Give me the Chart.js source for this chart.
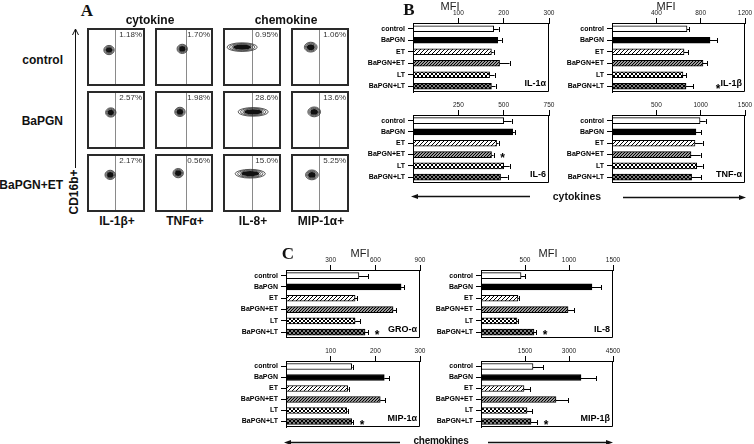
<!DOCTYPE html>
<html><head><meta charset="utf-8">
<script src="https://cdn.jsdelivr.net/npm/chart.js@4/dist/chart.umd.min.js"></script>
<style>
html,body{margin:0;padding:0;background:#fff;}
#root{position:relative;width:754px;height:444px;overflow:hidden;font-family:"Liberation Sans",Arial,sans-serif;color:#111;}
.t{position:absolute;white-space:nowrap;line-height:1;}
canvas{position:absolute;}
svg{position:absolute;left:0;top:0;}
</style></head><body><div id="root"></div>
<script>
// ---------- DATA ----------
const conditions = ['control','BaPGN','ET','BaPGN+ET','LT','BaPGN+LT'];

const il1aMFI = [178,187,173,191,169,173];
const il1aErr = [189,196,178,213,180,182];
const il1aSig = [0,0,0,0,0,0];
const il1aTicks = [100,200,300];

const il1bMFI = [677,884,650,821,640,668];
const il1bErr = [695,947,686,857,668,731];
const il1bSig = [0,0,0,0,0,1];
const il1bTicks = [400,800,1200];

const il6MFI = [500,550,461,433,500,483];
const il6Err = [544,562,472,444,533,522];
const il6Sig = [0,0,0,1,0,0];
const il6Ticks = [250,500,750];

const tnfaMFI = [993,947,936,891,955,898];
const tnfaErr = [1057,1004,1023,1000,1023,1004];
const tnfaSig = [0,0,0,0,0,0];
const tnfaTicks = [500,1000,1500];

const groaMFI = [490,773,464,719,464,531];
const groaErr = [551,793,477,739,497,551];
const groaSig = [0,0,0,0,0,1];
const groaTicks = [300,600,900];

const il8MFI = [455,1261,420,989,409,602];
const il8Err = [500,1364,430,1057,420,625];
const il8Sig = [0,0,0,0,0,1];
const il8Ticks = [500,1000,1500];

const mip1aMFI = [147,220,138,211,136,147];
const mip1aErr = [149,231,140,222,138,150];
const mip1aSig = [0,0,0,0,0,1];
const mip1aTicks = [100,200,300];

const mip1bMFI = [1773,3409,1466,2557,1568,1705];
const mip1bErr = [2114,3920,1670,2966,1739,1909];
const mip1bSig = [0,0,0,0,0,1];
const mip1bTicks = [1500,3000,4500];

// Panel A (flow cytometry)
const flowConditions = ['control','BaPGN','BaPGN+ET'];
const flowMarkers = ['IL-1β+','TNFα+','IL-8+','MIP-1α+'];
const flowPercents = [
  ['1.18%','1.70%','0.95%','1.06%'],
  ['2.57%','1.98%','28.6%','13.6%'],
  ['2.17%','0.56%','15.0%','5.25%']
];
const flowCenterX = [[38,47,33,34],[41,43,52,40],[40,40,47,36]];
const flowCenterY = [[62,64,67,67],[63,64,64,64],[64,67,66,64]];
const flowSpreadX = [9,9,26,11];
const flowSpreadY = [8,8,7.5,8.5];
const flowGateX = [48,53,50,48];

// ---------- SETUP ----------
Chart.defaults.font.family = '"Liberation Sans", Arial, sans-serif';
Chart.defaults.color = '#111';
const root = document.getElementById('root');
const FONT = '"Liberation Sans", Arial, sans-serif';

function addCanvas(l,t,w,h){
  const c=document.createElement('canvas');
  c.width=w;c.height=h;
  c.style.left=l+'px';c.style.top=t+'px';c.style.width=w+'px';c.style.height=h+'px';
  root.appendChild(c);return c;
}
function txt(s,x,y,css,anchor,rot){
  const d=document.createElement('div');d.className='t';d.textContent=s;
  d.style.cssText+=css;d.style.left=x+'px';d.style.top=y+'px';
  const tx = anchor==='r'?'-100%':anchor==='l'?'0':'-50%';
  d.style.transform='translate('+tx+',-50%)'+(rot?' rotate('+rot+'deg)':'');
  root.appendChild(d);return d;
}

// patterns
function pattern(bg, fg, kind, size){
  const s=document.createElement('canvas');s.width=s.height=size;
  const g=s.getContext('2d');
  g.fillStyle=bg;g.fillRect(0,0,size,size);
  g.strokeStyle=fg;g.lineWidth=1;
  g.beginPath();
  g.moveTo(-1,size+1);g.lineTo(size+1,-1);
  g.moveTo(-1,1);g.lineTo(1,-1);
  g.moveTo(size-1,size+1);g.lineTo(size+1,size-1);
  if(kind==='cross'){
    g.moveTo(-1,-1);g.lineTo(size+1,size+1);
    g.moveTo(size-1,-1);g.lineTo(size+1,1);
    g.moveTo(-1,size-1);g.lineTo(1,size+1);
  }
  g.stroke();
  return s;
}
const patCanvases = [
  null, null,
  pattern('#ffffff','#000','diag',4),
  pattern('#9a9a9a','#000','diag',3),
  pattern('#ffffff','#000','cross',4),
  pattern('#808080','#000','cross',4)
];

// ---------- BAR CHARTS ----------
function makeBar(p){
  const [cl,ct,cw,ch]=p.cv; const [bl,bt,br,bb]=p.box;
  const c=addCanvas(cl,ct,cw,ch);
  const ctx=c.getContext('2d');
  const fills=['#ffffff','#000000'].concat(patCanvases.slice(2).map(pc=>ctx.createPattern(pc,'repeat')));
  const deco={
    id:'deco',
    afterDatasetsDraw(chart){
      const g=chart.ctx, xs=chart.scales.x, meta=chart.getDatasetMeta(0), ca=chart.chartArea;
      g.save();
      g.strokeStyle='#000';g.lineWidth=1;
      meta.data.forEach((bar,i)=>{
        const x0=xs.getPixelForValue(p.vals[i]);
        const x1=xs.getPixelForValue(p.errs[i]);
        const y=Math.round(bar.y)+0.5;
        if(x1>x0+0.5){
          g.beginPath();g.moveTo(x0,y);g.lineTo(x1,y);
          g.moveTo(Math.round(x1)+0.5,y-2.5);g.lineTo(Math.round(x1)+0.5,y+2.5);g.stroke();
        }
        if(p.sig[i]){
          g.fillStyle='#000';g.font='bold 12px '+FONT;g.textAlign='center';g.textBaseline='alphabetic';
          g.fillText('*',x1+(p.starOff||9),bar.y+7);
        }
      });
      // box
      g.beginPath();
      g.rect(Math.round(ca.left)+0.5,Math.round(ca.top)+0.5,Math.round(ca.right-ca.left)-1,Math.round(ca.bottom-ca.top)-1);
      g.stroke();
      // name
      const last=meta.data[meta.data.length-1];
      g.fillStyle='#000';g.font='bold 9px '+FONT;g.textAlign='right';g.textBaseline='middle';
      g.fillText(p.name,ca.right-3,last.y-3);
      g.restore();
    }
  };
  new Chart(c,{
    type:'bar',
    data:{labels:conditions,datasets:[{data:p.vals,backgroundColor:fills,borderColor:'#000',borderWidth:1,borderSkipped:false,barThickness:6}]},
    options:{
      indexAxis:'y',responsive:false,animation:false,devicePixelRatio:1,events:[],
      layout:{padding:{left:0,top:0,right:(cl+cw)-br,bottom:(ct+ch)-bb}},
      plugins:{legend:{display:false},tooltip:{enabled:false}},
      scales:{
        x:{position:'top',min:0,max:p.ticks[p.ticks.length-1],
           afterBuildTicks:s=>{s.ticks=p.ticks.map(v=>({value:v}));},
           afterFit:s=>{s.height=bt-ct;},
           ticks:{font:{size:6.5},color:'#222',padding:1,maxRotation:0,autoSkip:false,callback:v=>String(v)},
           grid:{drawOnChartArea:false,tickLength:5,color:'#000',lineWidth:1},
           border:{color:'#000',width:1}},
        y:{afterFit:s=>{s.width=bl-cl;},
           ticks:{font:{size:7,weight:'bold'},color:'#000',padding:3,autoSkip:false},
           grid:{drawOnChartArea:false,offset:false,tickLength:5,color:'#000',lineWidth:1},
           border:{color:'#000',width:1}}
      }
    },
    plugins:[deco]
  });
}

const barPanels=[
  {vals:il1aMFI,errs:il1aErr,sig:il1aSig,ticks:il1aTicks,name:'IL-1α',cv:[330,0,235,100],box:[413,23,549,92]},
  {vals:il1bMFI,errs:il1bErr,sig:il1bSig,ticks:il1bTicks,name:'IL-1β',cv:[550,0,204,100],box:[612,23,745,92],starOff:25},
  {vals:il6MFI,errs:il6Err,sig:il6Sig,ticks:il6Ticks,name:'IL-6',cv:[330,95,235,95],box:[413,115,549,183]},
  {vals:tnfaMFI,errs:tnfaErr,sig:tnfaSig,ticks:tnfaTicks,name:'TNF-α',cv:[550,95,204,95],box:[612,115,745,183]},
  {vals:groaMFI,errs:groaErr,sig:groaSig,ticks:groaTicks,name:'GRO-α',cv:[228,245,204,100],box:[286,270,420,339]},
  {vals:il8MFI,errs:il8Err,sig:il8Sig,ticks:il8Ticks,name:'IL-8',cv:[425,245,205,100],box:[481,270,613,339]},
  {vals:mip1aMFI,errs:mip1aErr,sig:mip1aSig,ticks:mip1aTicks,name:'MIP-1α',cv:[228,335,204,100],box:[286,361,420,427]},
  {vals:mip1bMFI,errs:mip1bErr,sig:mip1bSig,ticks:mip1bTicks,name:'MIP-1β',cv:[425,335,205,100],box:[481,361,613,427]}
];
barPanels.forEach(makeBar);

// ---------- PANEL A ----------
const colX=[87,155,223,291], rowY=[28,91,154], BOX=58;
function makeFlow(r,c){
  const cv=addCanvas(colX[c],rowY[r],BOX,BOX);
  const plug={
    id:'flow',
    afterDatasetsDraw(chart){
      const g=chart.ctx, xs=chart.scales.x, ys=chart.scales.y;
      g.save();
      // gate
      const gx=Math.round(xs.getPixelForValue(flowGateX[c]))+0.5;
      g.strokeStyle='#8a8a8a';g.lineWidth=1;
      g.beginPath();g.moveTo(gx,0);g.lineTo(gx,BOX);g.stroke();
      // contour blob
      const cx=xs.getPixelForValue(flowCenterX[r][c]), cy=ys.getPixelForValue(flowCenterY[r][c]);
      const rx=xs.getPixelForValue(flowCenterX[r][c]+flowSpreadX[c])-cx;
      const ry=cy-ys.getPixelForValue(flowCenterY[r][c]+flowSpreadY[c]);
      g.strokeStyle='#333';g.lineWidth=0.8;
      [1,0.84,0.68].forEach(k=>{g.beginPath();g.ellipse(cx,cy,rx*k,ry*k,0,0,Math.PI*2);g.stroke();});
      g.fillStyle='#111';g.beginPath();g.ellipse(cx,cy,rx*0.6,ry*0.6,0,0,Math.PI*2);g.fill();
      // frame
      g.strokeStyle='#2a2a2a';g.lineWidth=2;g.strokeRect(1,1,BOX-2,BOX-2);
      // percent
      g.fillStyle='#333';g.font='8px '+FONT;g.textAlign='right';g.textBaseline='top';
      g.fillText(flowPercents[r][c],BOX-3,3);
      g.restore();
    }
  };
  new Chart(cv,{
    type:'scatter',
    data:{datasets:[{data:[{x:flowCenterX[r][c],y:flowCenterY[r][c]}],pointRadius:0}]},
    options:{responsive:false,animation:false,devicePixelRatio:1,events:[],
      layout:{padding:0},
      plugins:{legend:{display:false},tooltip:{enabled:false}},
      scales:{x:{display:false,min:0,max:100},y:{display:false,min:0,max:100}}},
    plugins:[plug]
  });
}
for(let r=0;r<3;r++)for(let c=0;c<4;c++)makeFlow(r,c);

// ---------- TEXT ----------
const serif='font-family:"Liberation Serif","Times New Roman",serif;font-weight:bold;font-size:17px;';
txt('A',87,10,serif);
txt('B',409,9,serif);
txt('C',288,253,serif);
const hb='font-weight:bold;font-size:12px;';
txt('cytokine',150,20,hb);
txt('chemokine',286,20,hb);
const rowLabelY=[60,121,185];
flowConditions.forEach((s,i)=>txt(s,63,rowLabelY[i],hb,'r'));
flowMarkers.forEach((s,i)=>txt(s,colX[i]+BOX/2+1,221,hb));
txt('CD16b+',74,192,hb,'c',-90);
const mfi='font-size:11px;color:#222;';
txt('MFI',450,6,mfi);
txt('MFI',666,6,mfi);
txt('MFI',360,253,mfi);
txt('MFI',548,253,mfi);
txt('cytokines',577,196,'font-weight:bold;font-size:10.5px;');
txt('chemokines',441,441,'font-weight:bold;font-size:10px;letter-spacing:-0.3px;');

// ---------- ARROWS ----------
const NS='http://www.w3.org/2000/svg';
const svg=document.createElementNS(NS,'svg');
svg.setAttribute('width','754');svg.setAttribute('height','444');
svg.innerHTML=
 '<g stroke="#111" stroke-width="1" fill="none">'+
 '<line x1="75.5" y1="168" x2="75.5" y2="29"/>'+
 '<polyline points="72.5,35 75.5,29 78.5,35"/>'+
 '<line x1="530" y1="196.5" x2="416" y2="196.5" stroke-width="1.3"/>'+
 '<line x1="623" y1="197.5" x2="741" y2="197.5" stroke-width="1.3"/>'+
 '<line x1="400" y1="442.5" x2="289" y2="442.5" stroke-width="1.3"/>'+
 '<line x1="488" y1="442.5" x2="608" y2="442.5" stroke-width="1.3"/>'+
 '</g><g fill="#111">'+
 '<polygon points="411,196.5 418,194 418,199"/>'+
 '<polygon points="746,197.5 739,195 739,200"/>'+
 '<polygon points="284,442.5 291,440 291,445"/>'+
 '<polygon points="613,442.5 606,440 606,445"/>'+
 '</g>';
root.appendChild(svg);
</script>
</body></html>
